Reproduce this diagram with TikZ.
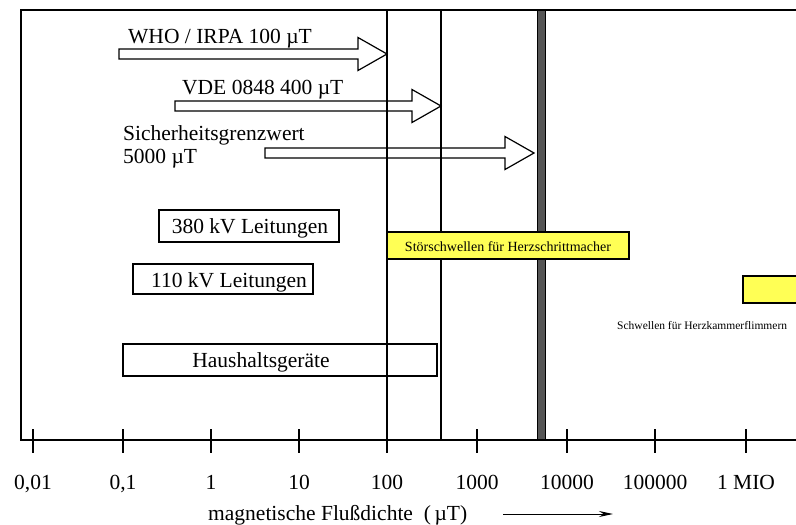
\documentclass[tikz,border=0pt]{standalone}
\usepackage{fontspec}
\setmainfont{Liberation Serif}
\usetikzlibrary{arrows.meta}
\definecolor{MarkClr}{RGB}{255,255,85}
\definecolor{BarClr}{RGB}{85,85,85}
% outlined block arrow: start x, tip x, middle y
\newcommand{\FluxArrow}[3]{%
  \draw[line width=1.2pt] (#1,#3-5) -- (#2-29,#3-5) -- (#2-29,#3-16.5) -- (#2,#3)
    -- (#2-29,#3+16.5) -- (#2-29,#3+5) -- (#1,#3+5) -- cycle;}

\begin{document}
\begin{tikzpicture}[x=1pt,y=-1pt,
  lbl/.style={font=\fontsize{21.5}{26}\selectfont,inner sep=0pt},
  smalllbl/.style={font=\fontsize{14}{17}\selectfont,inner sep=0pt},
  tinylbl/.style={font=\fontsize{11.5}{14}\selectfont,inner sep=0pt},
  frame/.style={line width=1.3pt},
  markbox/.style={draw,line width=1.3pt,fill=MarkClr}]

\useasboundingbox (0,0) rectangle (796,525);
\clip (0,0) rectangle (796,525);

\coordinate (TL) at (21,10);
\coordinate (TR) at (800,10);
\coordinate (O) at (21,440);
\coordinate (AR) at (800,440);
\draw[frame] (TR) -- (TL) -- (O) -- (AR);

% decades
\foreach \x/\t [count=\i] in {33/{0,01},123/{0,1},211/1,299/10,387/100,477/1000,567/10000,655/100000,746/{1 MIO}}{
  \draw[frame] (\x,429) -- (\x,453);
  \node[lbl,anchor=base] (tick\i) at (\x,489) {\t};
}

% limit lines
\draw[frame] (387,10) -- (387,440);
\draw[frame] (441,10) -- (441,440);
\draw[line width=1pt,fill=BarClr] (537,10) rectangle (545,439);

% limit values
\node[lbl,anchor=base west] (who) at (128,43) {WHO / IRPA 100 µT};
\FluxArrow{119}{387}{54}
\node[lbl,anchor=base west] (vde) at (182,94) {VDE 0848 400 µT};
\FluxArrow{175}{441}{106}
\node[lbl,anchor=base west] (sgw) at (123,140) {Sicherheitsgrenzwert};
\node[lbl,anchor=base west] (sgwval) at (123,163) {5000 µT};
\FluxArrow{265}{534}{153}

% sources
\draw[frame] (159,210) rectangle (339,242);
\node[lbl,anchor=base] (kv380) at (250,233) {380 kV Leitungen};
\draw[frame] (133,264) rectangle (313,294);
\node[lbl,anchor=base] (kv110) at (229,287) {110 kV Leitungen};
\draw[frame] (123,344) rectangle (437,376);
\node[lbl,anchor=base] (hh) at (261,367) {Haushaltsgeräte};

% thresholds
\draw[markbox] (387,232) rectangle (629,259);
\node[smalllbl,anchor=base] (pace) at (508,251) {Störschwellen für Herzschrittmacher};
\draw[markbox] (743,276) rectangle (820,303);
\node[tinylbl,anchor=base west] (fib) at (617,329) {Schwellen für Herzkammerflimmern};

% axis title
\node[lbl,anchor=west] (title) at (208,515) {magnetische Flußdichte~~(\,µT)};
\coordinate (ax1) at (503,514);
\coordinate (ax2) at (613,514);
\draw[line width=1pt,-{Stealth[length=14pt,width=6pt]}] (ax1) -- (ax2);

\end{tikzpicture}
\end{document}
